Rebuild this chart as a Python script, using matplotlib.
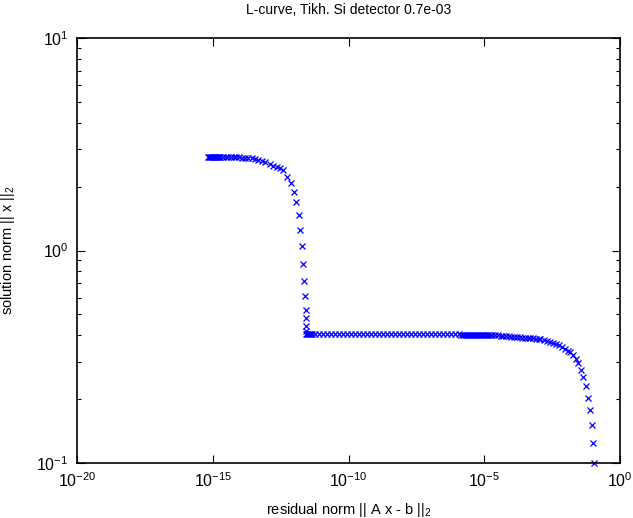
import numpy as np
import matplotlib.pyplot as plt
from matplotlib.ticker import LogLocator, NullLocator

plt.rcParams['font.family'] = ['Liberation Sans', 'DejaVu Sans']
plt.rcParams['mathtext.fontset'] = 'custom'
plt.rcParams['mathtext.rm'] = 'Liberation Sans'
plt.rcParams['mathtext.default'] = 'regular'

# L-curve points, stored as log10 values
# upper branch (large solution norm), then the drop
log_res_upper = [-15.18, -15.14, -15.10, -15.06, -15.03, -14.99, -14.95, -14.92,
                 -14.88, -14.84, -14.81, -14.77, -14.73, -14.62, -14.51, -14.44,
                 -14.33, -14.22, -14.14, -14.03, -13.92, -13.81, -13.70, -13.57,
                 -13.44, -13.32, -13.20, -13.08, -12.89, -12.77, -12.64, -12.52,
                 -12.40, -12.27, -12.12, -12.01, -11.93, -11.82, -11.79, -11.71,
                 -11.68, -11.64, -11.60, -11.58, -11.57, -11.56, -11.55, -11.55]
log_sol_upper = [0.440, 0.440, 0.440, 0.440, 0.440, 0.440, 0.440, 0.440,
                 0.440, 0.440, 0.440, 0.440, 0.440, 0.440, 0.440, 0.440,
                 0.440, 0.440, 0.438, 0.438, 0.437, 0.436, 0.435, 0.434,
                 0.431, 0.426, 0.422, 0.416, 0.407, 0.399, 0.393, 0.387,
                 0.379, 0.346, 0.318, 0.275, 0.228, 0.167, 0.096, 0.021,
                 -0.064, -0.144, -0.214, -0.280, -0.318, -0.355, -0.379, -0.393]

# lower branch (flat part and the right-hand corner)
log_res_lower = [-11.53, -11.49, -11.45, -11.42, -11.38, -11.34,
                 -11.23, -11.09, -10.94, -10.79, -10.64, -10.50, -10.35, -10.20,
                 -10.05, -9.91, -9.76, -9.61, -9.46, -9.32, -9.17, -9.02,
                 -8.87, -8.73, -8.58, -8.43, -8.28, -8.14, -7.99, -7.84,
                 -7.69, -7.55, -7.40, -7.25, -7.10, -6.96, -6.81, -6.66,
                 -6.51, -6.37, -6.22, -6.07, -5.92,
                 -5.85, -5.80, -5.74, -5.69, -5.63, -5.58, -5.52, -5.47,
                 -5.41, -5.36, -5.30, -5.25, -5.19, -5.14, -5.08, -5.03,
                 -4.97, -4.91, -4.86, -4.80,
                 -4.70, -4.60, -4.50, -4.40, -4.30, -4.20, -4.10, -4.00,
                 -3.90, -3.80, -3.70, -3.60, -3.50, -3.40, -3.30, -3.20,
                 -3.10, -3.00, -2.95,
                 -2.80, -2.69, -2.58, -2.47, -2.36, -2.25, -2.14, -2.03,
                 -1.92, -1.84, -1.73, -1.62, -1.55, -1.44, -1.36, -1.25,
                 -1.18, -1.10, -1.03, -0.99, -0.96]
log_sol_lower = [-0.395] * 43 + \
                [-0.398] * 20 + \
                [-0.398, -0.398, -0.398, -0.400, -0.402, -0.402, -0.404, -0.405,
                 -0.407, -0.408, -0.409, -0.410, -0.411, -0.412, -0.413, -0.414,
                 -0.415, -0.416, -0.417] + \
                [-0.421, -0.426, -0.431, -0.435, -0.440, -0.445, -0.454, -0.464,
                 -0.473, -0.478, -0.492, -0.511, -0.529, -0.562, -0.595, -0.638,
                 -0.694, -0.751, -0.821, -0.906, -1.000]

residual = 10.0 ** np.array(log_res_upper + log_res_lower)
solution = 10.0 ** np.array(log_sol_upper + log_sol_lower)

fig = plt.figure(figsize=(6.33, 5.18), dpi=100)
ax = fig.add_axes([77 / 633, 55 / 518, 543 / 633, 425 / 518])

ax.loglog(residual, solution, 'x', color='blue', markersize=5,
          markeredgewidth=0.9, clip_on=False)

ax.set_xlim(1e-20, 1e0)
ax.set_ylim(1e-1, 1e1)
ax.set_xticks([1e-20, 1e-15, 1e-10, 1e-5, 1e0])
ax.xaxis.set_minor_locator(NullLocator())
ax.yaxis.set_major_locator(LogLocator(base=10))
ax.yaxis.set_minor_locator(LogLocator(base=10, subs=np.arange(2, 10)))

ax.tick_params(which='both', direction='in', top=True, right=True,
               labelsize=11.5, width=0.8)
ax.tick_params(which='major', length=6, pad=6)
ax.tick_params(which='minor', length=3)
for s in ax.spines.values():
    s.set_linewidth(1.2)

ax.set_title('L-curve, Tikh. Si detector 0.7e-03', fontsize=10, pad=17)
ax.set_xlabel('residual norm || A x - b ||$_2$', fontsize=10.5, labelpad=8)
ax.set_ylabel('solution norm || x ||$_2$', fontsize=10.5, labelpad=14)

fig.savefig('out.png', dpi=100)
